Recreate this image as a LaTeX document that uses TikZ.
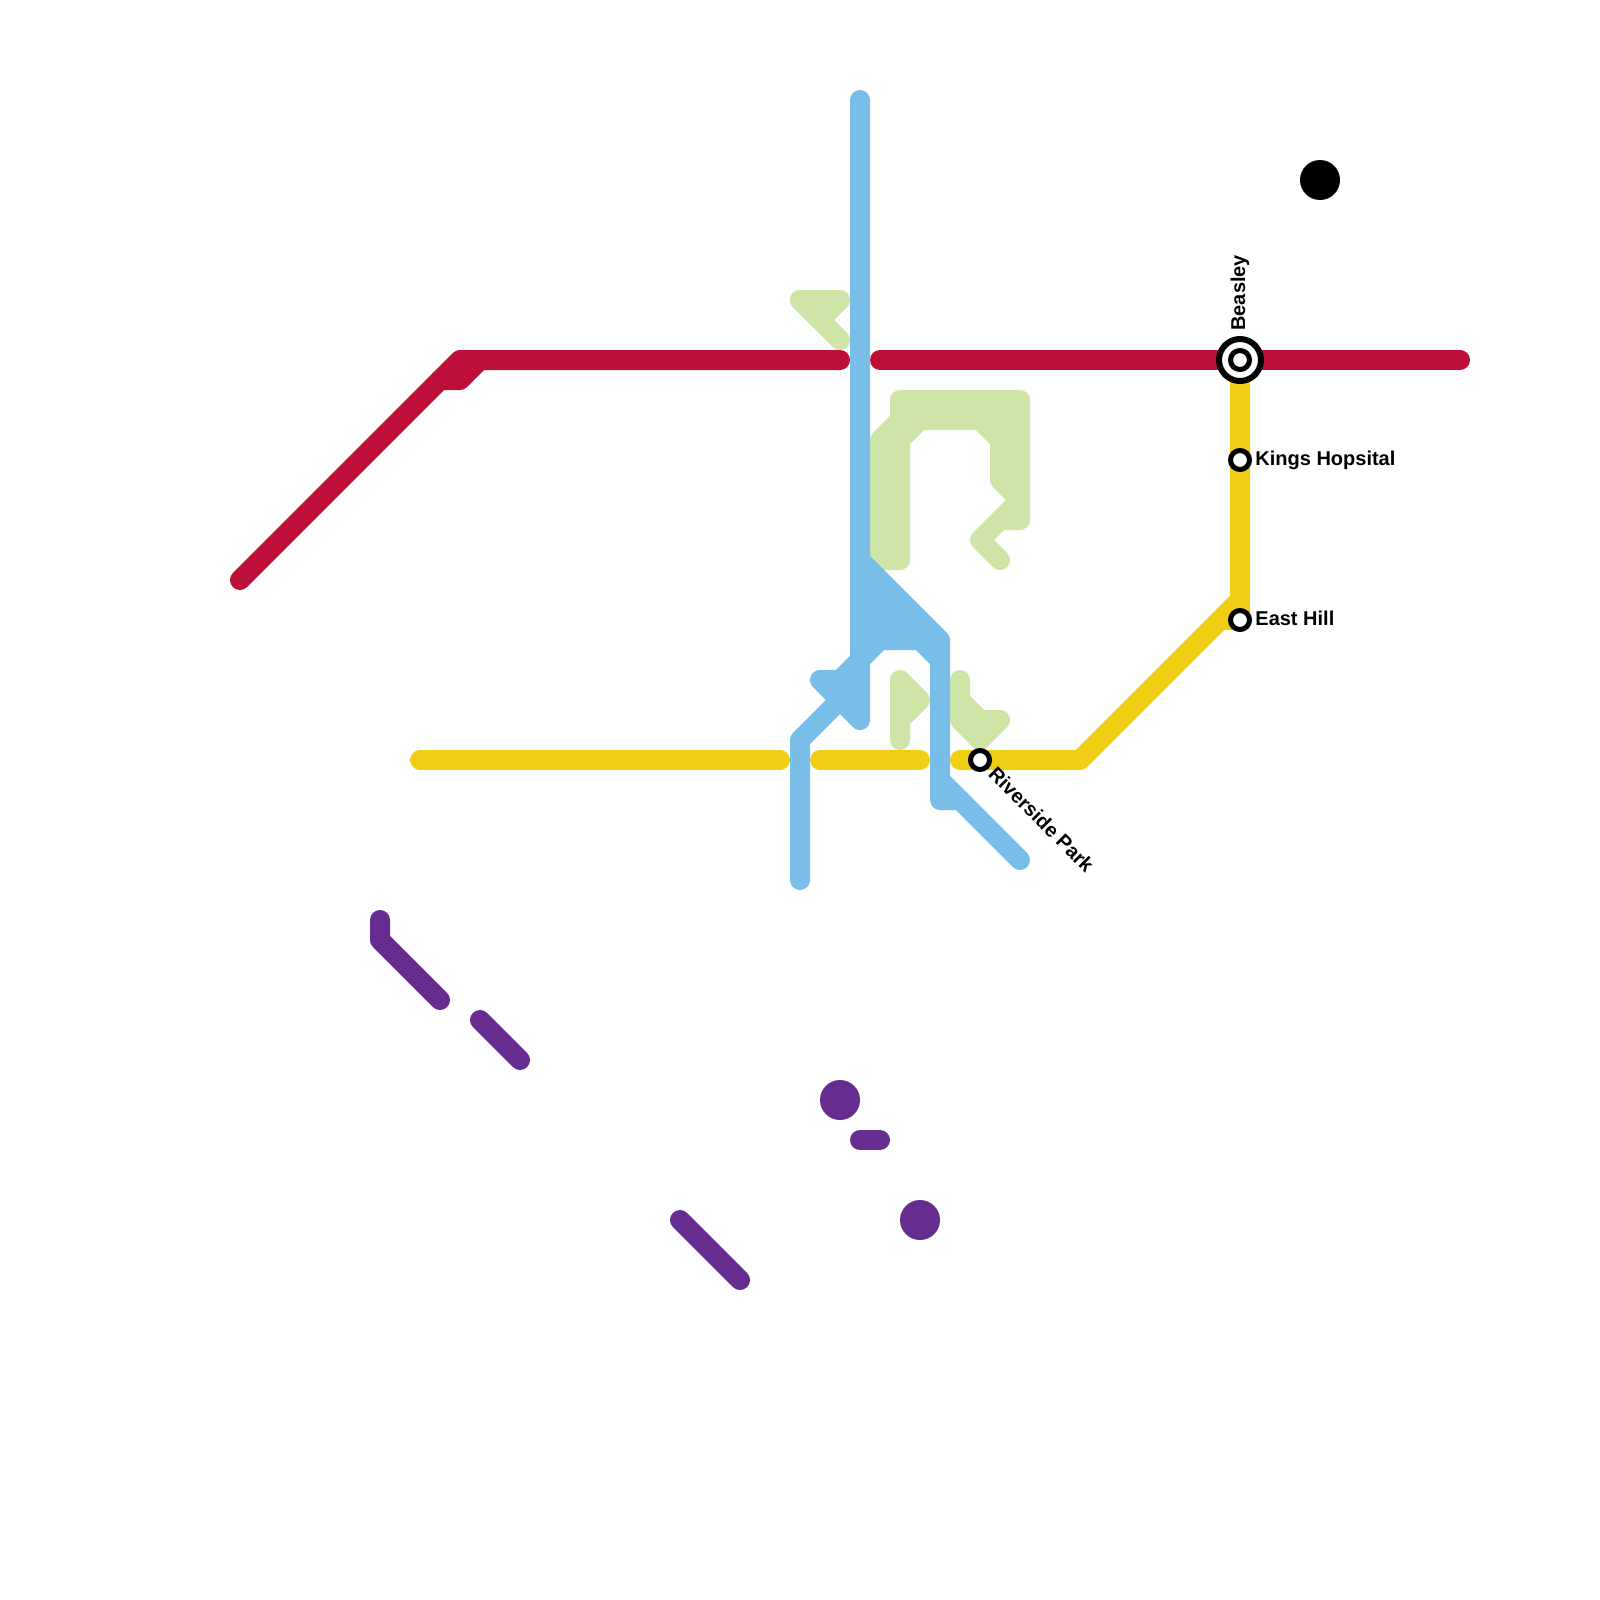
\documentclass[tikz,border=0pt]{standalone}
\usepackage{fontspec}
\setmainfont{Liberation Sans}
\definecolor{redrail}{HTML}{BD1038}
\definecolor{yellowrail}{HTML}{F0CE15}
\definecolor{bluerail}{HTML}{79BDE9}
\definecolor{greenrail}{HTML}{CFE4A7}
\definecolor{purplerail}{HTML}{662C90}
\tikzset{
  rail/.style={line width=10pt,line cap=round,line join=round},
  station/.style={circle,draw=black,fill=white,line width=2.5pt,minimum size=9.5pt,inner sep=0pt},
  hub/.style={circle,draw=black,fill=white,line width=3pt,minimum size=21pt,inner sep=0pt},
  dot/.style={circle,minimum size=20pt,inner sep=0pt},
  stationname/.style={inner sep=0pt,anchor=base west,font=\bfseries\fontsize{10}{12}\selectfont}
}

\begin{document}
\begin{tikzpicture}[x=0.5pt,y=-0.5pt]
  \useasboundingbox (0,0) rectangle (1600,1600);
  % green
  \draw[rail,greenrail] (800,300) -- (840,340);
  \draw[rail,greenrail,fill=greenrail] (800,300) -- (840,300) -- (820,320) -- cycle;
  \draw[rail,greenrail,fill=greenrail] (880,560) -- (880,440) -- (900,420) -- (900,400) -- (1020,400) -- (1020,520) -- (1000,520) -- (980,540) -- (1000,560)
    -- (980,540) -- (1020,500) -- (1000,480) -- (1000,440) -- (980,420) -- (920,420) -- (900,440) -- (900,560) -- cycle;
  \draw[rail,greenrail,fill=greenrail] (900,740) -- (900,680) -- (920,700) -- (900,720) -- cycle;
  \draw[rail,greenrail,fill=greenrail] (960,680) -- (960,700) -- (980,720) -- (1000,720) -- (980,740) -- (960,720) -- cycle;
  % red
  \draw[rail,redrail] (240,580) -- (460,360) -- (840,360);
  \draw[rail,redrail] (440,380) -- (460,380) -- (480,360);
  \draw[rail,redrail] (880,360) -- (1460,360);
  % yellow
  \draw[rail,yellowrail] (420,760) -- (780,760);
  \draw[rail,yellowrail] (820,760) -- (920,760);
  \draw[rail,yellowrail] (960,760) -- (1080,760) -- (1240,600) -- (1240,360);
  \draw[rail,yellowrail] (1220,620) -- (1240,620) -- (1240,600);
  % blue
  \fill[bluerail] (860,560) -- (940,640) -- (860,640) -- cycle;
  \draw[rail,bluerail] (860,100) -- (860,720) -- (820,680) -- (840,680) -- (880,640) -- (920,640) -- (940,660);
  \draw[rail,bluerail] (800,880) -- (800,740) -- (860,680);
  \draw[rail,bluerail] (860,560) -- (940,640) -- (940,800) -- (960,800) -- (1020,860);
  \draw[rail,bluerail] (940,780) -- (960,800);
  % purple
  \draw[rail,purplerail] (380,920) -- (380,940) -- (440,1000);
  \draw[rail,purplerail] (480,1020) -- (520,1060);
  \draw[rail,purplerail] (860,1140) -- (880,1140);
  \draw[rail,purplerail] (680,1220) -- (740,1280);
  \node[dot,fill=purplerail] (purpleA) at (840,1100) {};
  \node[dot,fill=purplerail] (purpleB) at (920,1220) {};
  \node[dot,fill=black] (blackdot) at (1320,180) {};
  % stations
  \node[hub] (beasleyring) at (1240,360) {};
  \node[station] (beasley) at (1240,360) {};
  \node[station] (kings) at (1240,460) {};
  \node[station] (easthill) at (1240,620) {};
  \node[station] (riverside) at (980,760) {};
  \node[stationname,rotate=90] (beasleytext) at (1245,331) {Beasley};
  \node[stationname] (kingstext) at (1255,465) {Kings Hopsital};
  \node[stationname] (easthilltext) at (1255,625) {East Hill};
  \node[stationname,rotate=-45] (riversidetext) at (987,775) {Riverside Park};
\end{tikzpicture}
\end{document}
